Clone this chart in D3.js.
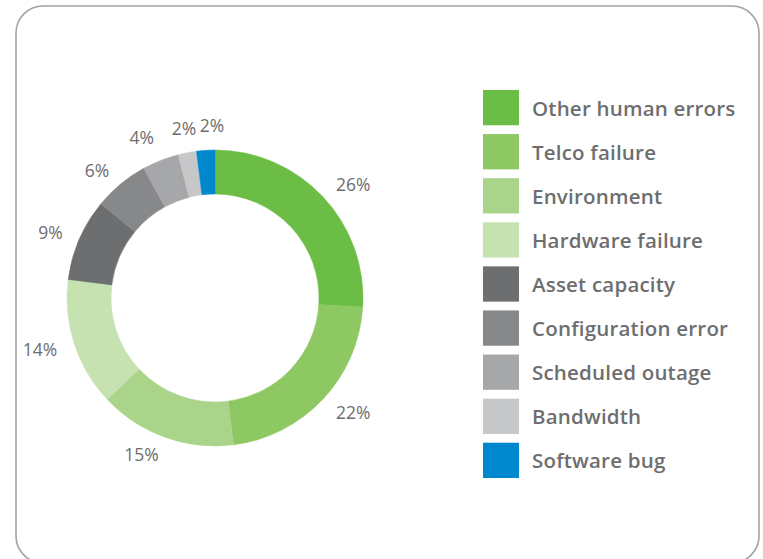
<!DOCTYPE html>
<html>
<head>
<meta charset="utf-8">
<script src="https://cdn.jsdelivr.net/npm/d3@7"></script>
<style>
  body { margin: 0; background: #fff; }
  svg { display: block; }
  .pct { font-family: "Open Sans", sans-serif; font-size: 17.5px; fill: #6d6e70; }
  .legend text { font-family: "Open Sans", sans-serif; font-weight: 600; font-size: 20.5px; letter-spacing: 0.2px; fill: #6d6e70; }
</style>
</head>
<body>
<div id="chart"></div>
<script>
var categories = ["Other human errors", "Telco failure", "Environment", "Hardware failure",
  "Asset capacity", "Configuration error", "Scheduled outage", "Bandwidth", "Software bug"];
var values = [26, 22, 15, 14, 9, 6, 4, 2, 2];
var colors = ["#6cbd45", "#8dc863", "#a9d48a", "#c6e2b0",
  "#6d6e70", "#87888a", "#a6a7a9", "#c6c7c8", "#0088cf"];

var width = 763, height = 559;
var cx = 215, cy = 298;
var outerR = 148, innerR = 104, labelR = 166;

var svg = d3.select("#chart").append("svg")
  .attr("width", width)
  .attr("height", height);

// card border
svg.append("rect")
  .attr("x", 16)
  .attr("y", 6)
  .attr("width", 743)
  .attr("height", 557)
  .attr("rx", 27)
  .attr("fill", "#fff")
  .attr("stroke", "#a3a3a3")
  .attr("stroke-width", 1.6);

var pie = d3.pie().sort(null).value(function (d) { return d; });
var arcs = pie(values);

var arc = d3.arc().innerRadius(innerR).outerRadius(outerR);

var g = svg.append("g").attr("transform", "translate(" + cx + "," + cy + ")");

g.selectAll("path")
  .data(arcs)
  .enter().append("path")
  .attr("d", arc)
  .attr("fill", function (d, i) { return colors[i]; })
  .attr("stroke", function (d, i) { return colors[i]; })
  .attr("stroke-width", 0.5);

// labels sit just outside the ring; right side starts at the point, left side ends there
var pos = arcs.map(function (d) {
  var a = (d.startAngle + d.endAngle) / 2;
  var s = Math.sin(a), c = Math.cos(a);
  var anchor = Math.abs(s) < 0.25 ? "middle" : (s > 0 ? "start" : "end");
  return { x: labelR * s, y: -labelR * c, anchor: anchor, top: c > 0.9 };
});
for (var i = 1; i < pos.length; i++) {
  var dx = pos[i].x - pos[i - 1].x;
  var dy = pos[i].y - pos[i - 1].y;
  if (pos[i].anchor == "middle" && pos[i - 1].anchor == "middle" && Math.abs(dy) < 14 && dx < 28) {
    pos[i].x = pos[i - 1].x + 28;
  }
}

g.selectAll("text.pct")
  .data(arcs)
  .enter().append("text")
  .attr("class", "pct")
  .attr("x", function (d, i) { return pos[i].x; })
  .attr("y", function (d, i) { return pos[i].y; })
  .attr("text-anchor", function (d, i) { return pos[i].anchor; })
  .attr("dominant-baseline", function (d, i) { return pos[i].top ? "auto" : "central"; })
  .text(function (d) { return d.data + "%"; });

// legend
var legendY = d3.scaleBand()
  .domain(categories)
  .range([90, 478])
  .paddingInner(0.2);

var legend = svg.append("g").attr("class", "legend");

var item = legend.selectAll("g")
  .data(categories)
  .enter().append("g")
  .attr("transform", function (d) { return "translate(483," + legendY(d) + ")"; });

item.append("rect")
  .attr("width", 36)
  .attr("height", legendY.bandwidth())
  .attr("fill", function (d, i) { return colors[i]; });

item.append("text")
  .attr("x", 49)
  .attr("y", legendY.bandwidth() / 2)
  .attr("dominant-baseline", "central")
  .text(function (d) { return d; });
</script>
</body>
</html>
